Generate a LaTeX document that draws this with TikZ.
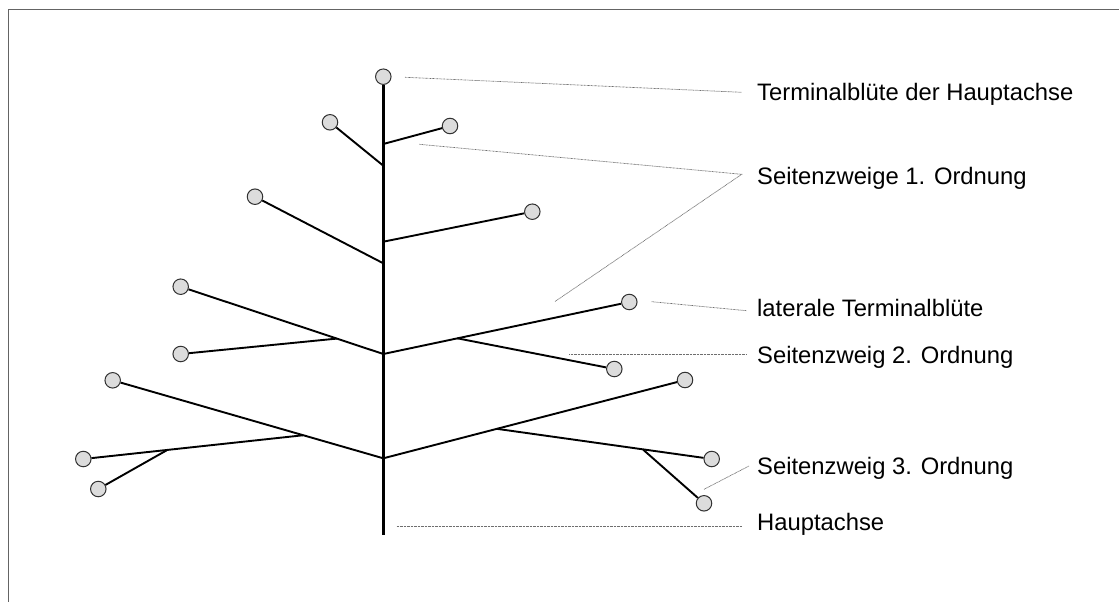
\documentclass[tikz,border=0pt]{standalone}
\usepackage{fontspec}
\setmainfont{Liberation Sans}
\definecolor{budfill}{RGB}{220,220,220}
\definecolor{budline}{RGB}{50,50,50}
\definecolor{leadcol}{RGB}{110,110,110}
\definecolor{framecol}{RGB}{100,100,100}
\tikzset{
  bud/.style={circle, draw=budline, line width=1pt, fill=budfill, inner sep=0pt, minimum size=15.5pt},
  twig/.style={line width=1.9pt, black},
  axis/.style={line width=3.2pt, black},
  leader/.style={line width=0.7pt, leadcol, dash pattern=on 0.8pt off 0.6pt},
  lbl/.style={anchor=base west, inner sep=0pt, font=\fontsize{23.8}{28}\selectfont}
}
\begin{document}
\begin{tikzpicture}[x=1pt,y=-1pt]
\useasboundingbox (0,0) rectangle (1119,602);
\draw[framecol, line width=1pt] (8.5,602) -- (8.5,9.5) -- (1119,9.5);

% buds
\node[bud] (t)   at (383.3,76.7) {};
\node[bud] (c1)  at (330,122.3) {};
\node[bud] (c2)  at (450,126) {};
\node[bud] (c3)  at (255,196.7) {};
\node[bud] (c4)  at (532.3,211.7) {};
\node[bud] (c5)  at (180.7,286.7) {};
\node[bud] (c6)  at (629.3,302) {};
\node[bud] (c7)  at (180.7,354) {};
\node[bud] (c8)  at (614.3,369) {};
\node[bud] (c9)  at (112.7,380.3) {};
\node[bud] (c10) at (685,380) {};
\node[bud] (c11) at (83.3,459) {};
\node[bud] (c12) at (98.3,489) {};
\node[bud] (c13) at (711.7,459) {};
\node[bud] (c14) at (704,503.3) {};

% branch points
\coordinate (abot) at (383.3,534.5);
\coordinate (b1) at (383.3,165.7);
\coordinate (b2) at (383.3,144);
\coordinate (b3) at (383.3,263.3);
\coordinate (b4) at (383.3,241.7);
\coordinate (b5) at (383.3,354);
\coordinate (b6) at (383.3,458.3);
\coordinate (s1) at (336.7,338.6);
\coordinate (s2) at (457.3,338.3);
\coordinate (s3) at (302.7,435.3);
\coordinate (s4) at (166.7,450.3);
\coordinate (s5) at (496.7,428.8);
\coordinate (s6) at (643.3,449.8);

% twigs
\draw[twig] (b1) -- (c1);
\draw[twig] (b2) -- (c2);
\draw[twig] (b3) -- (c3);
\draw[twig] (b4) -- (c4);
\draw[twig] (b5) -- (c5);
\draw[twig] (b5) -- (c6);
\draw[twig] (s1) -- (c7);
\draw[twig] (s2) -- (c8);
\draw[twig] (b6) -- (c9);
\draw[twig] (b6) -- (c10);
\draw[twig] (s3) -- (c11);
\draw[twig] (s4) -- (c12);
\draw[twig] (s5) -- (c13);
\draw[twig] (s6) -- (c14);
\draw[axis] (t) -- (abot);

% labels
\node[lbl] (l1) at (757,100) {Terminalblüte der Hauptachse};
\node[lbl] (l2) at (757,184.3) {Seitenzweige 1. Ordnung};
\node[lbl] (l3) at (757,316.7) {laterale Terminalblüte};
\node[lbl] (l4) at (757,363) {Seitenzweig 2. Ordnung};
\node[lbl] (l5) at (757,474) {Seitenzweig 3. Ordnung};
\node[lbl] (l6) at (757,530.7) {Hauptachse};

% leader lines
\coordinate (p1a) at (405,77.3);   \coordinate (p1b) at (741.7,92.3);
\coordinate (p2a) at (419.3,144.3); \coordinate (p2b) at (741.7,174.3); \coordinate (p2c) at (554.7,301.7);
\coordinate (p3a) at (651.7,301.7); \coordinate (p3b) at (746.7,310.7);
\coordinate (p4a) at (569.3,354);   \coordinate (p4b) at (746.7,354);
\coordinate (p5a) at (704,489.3);   \coordinate (p5b) at (749,466);
\coordinate (p6a) at (396.7,526);   \coordinate (p6b) at (742,526);
\draw[leader] (p1a) -- (p1b);
\draw[leader] (p2a) -- (p2b) -- (p2c);
\draw[leader] (p3a) -- (p3b);
\draw[leader] (p4a) -- (p4b);
\draw[leader] (p5a) -- (p5b);
\draw[leader] (p6a) -- (p6b);
\end{tikzpicture}
\end{document}
